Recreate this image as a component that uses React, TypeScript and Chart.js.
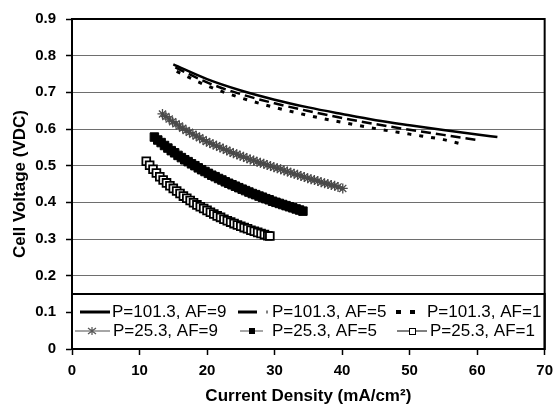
import React, { useEffect, useRef } from 'react';
import { Chart, registerables } from 'chart.js';

Chart.register(...registerables);

// P=101.3, AF=9
const p101af9X = [15, 20, 25, 30, 35, 40, 45, 50, 55, 60, 63];
const p101af9V = [0.776, 0.736, 0.705, 0.68, 0.659, 0.641, 0.624, 0.61, 0.597, 0.585, 0.578];
// P=101.3, AF=5
const p101af5X = [15.3, 20, 25, 30, 35, 40, 45, 50, 55, 60];
const p101af5V = [0.768, 0.727, 0.695, 0.67, 0.649, 0.63, 0.613, 0.598, 0.584, 0.57];
// P=101.3, AF=1
const p101af1X = [15.5, 20, 25, 30, 35, 40, 45, 50, 55, 57.5];
const p101af1V = [0.757, 0.718, 0.685, 0.659, 0.637, 0.618, 0.601, 0.586, 0.571, 0.56];
// P=25.3, AF=9
const p25af9X = [13.4, 13.9, 14.4, 14.9, 15.4, 15.9, 16.4, 16.9, 17.4, 17.9, 18.4, 18.9, 19.4, 19.9, 20.4, 20.9, 21.4, 21.9, 22.4, 22.9, 23.4, 23.9, 24.4, 24.9, 25.4, 25.9, 26.4, 26.9, 27.4, 27.9, 28.4, 28.9, 29.4, 29.9, 30.4, 30.9, 31.4, 31.9, 32.4, 32.9, 33.4, 33.9, 34.4, 34.9, 35.4, 35.9, 36.4, 36.9, 37.4, 37.9, 38.4, 38.9, 39.4, 40.1];
const p25af9V = [0.641, 0.634, 0.627, 0.62, 0.614, 0.608, 0.602, 0.596, 0.591, 0.586, 0.581, 0.576, 0.571, 0.566, 0.562, 0.558, 0.554, 0.55, 0.546, 0.542, 0.538, 0.534, 0.531, 0.527, 0.524, 0.52, 0.517, 0.514, 0.511, 0.508, 0.505, 0.502, 0.499, 0.496, 0.493, 0.49, 0.487, 0.484, 0.481, 0.478, 0.475, 0.472, 0.469, 0.466, 0.463, 0.461, 0.458, 0.455, 0.452, 0.45, 0.447, 0.445, 0.442, 0.438];
// P=25.3, AF=5
const p25af5X = [12.2, 12.7, 13.2, 13.7, 14.2, 14.7, 15.2, 15.7, 16.2, 16.7, 17.2, 17.7, 18.2, 18.7, 19.2, 19.7, 20.2, 20.7, 21.2, 21.7, 22.2, 22.7, 23.2, 23.7, 24.2, 24.7, 25.2, 25.7, 26.2, 26.7, 27.2, 27.7, 28.2, 28.7, 29.2, 29.7, 30.2, 30.7, 31.2, 31.7, 32.2, 32.7, 33.2, 33.7, 34.2];
const p25af5V = [0.578, 0.57, 0.563, 0.555, 0.548, 0.541, 0.535, 0.528, 0.522, 0.516, 0.511, 0.505, 0.5, 0.494, 0.489, 0.484, 0.479, 0.474, 0.47, 0.465, 0.461, 0.456, 0.452, 0.448, 0.444, 0.44, 0.436, 0.432, 0.428, 0.424, 0.421, 0.417, 0.414, 0.41, 0.407, 0.403, 0.4, 0.397, 0.394, 0.391, 0.388, 0.385, 0.382, 0.379, 0.376];
// P=25.3, AF=1
const p25af1X = [11.0, 11.5, 12, 12.5, 13, 13.5, 14, 14.5, 15, 15.5, 16, 16.5, 17, 17.5, 18, 18.5, 19, 19.5, 20, 20.5, 21, 21.5, 22, 22.5, 23, 23.5, 24, 24.5, 25, 25.5, 26, 26.5, 27, 27.5, 28, 28.5, 29, 29.3];
const p25af1V = [0.512, 0.501, 0.49, 0.48, 0.47, 0.461, 0.453, 0.445, 0.438, 0.431, 0.424, 0.417, 0.411, 0.405, 0.399, 0.393, 0.388, 0.383, 0.378, 0.373, 0.368, 0.363, 0.359, 0.354, 0.35, 0.346, 0.342, 0.338, 0.335, 0.331, 0.328, 0.324, 0.321, 0.318, 0.315, 0.312, 0.309, 0.308];

const legendLabels = ['P=101.3, AF=9', 'P=101.3, AF=5', 'P=101.3, AF=1', 'P=25.3, AF=9', 'P=25.3, AF=5', 'P=25.3, AF=1'];
const xTitle = 'Current Density (mA/cm²)';
const yTitle = 'Cell Voltage (VDC)';

const pts = (xs: number[], ys: number[]) => xs.map((x, i) => ({ x, y: ys[i] }));

const FONT = '"Liberation Sans", Arial, sans-serif';

const framePlugin = {
  id: 'frameLegend',
  afterDraw(chart: any) {
    const { ctx, chartArea: a } = chart;
    ctx.save();
    const top = a.bottom - 55;
    ctx.fillStyle = '#fff';
    ctx.fillRect(a.left, top, a.right - a.left, a.bottom - top);
    ctx.strokeStyle = '#000';
    ctx.lineWidth = 2;
    ctx.strokeRect(a.left, top, a.right - a.left, a.bottom - top);
    ctx.strokeRect(a.left, a.top, a.right - a.left, a.bottom - a.top);

    const L = a.left;
    const r1 = a.bottom - 37;
    const r2 = a.bottom - 18;
    ctx.font = '17px ' + FONT;
    ctx.textBaseline = 'middle';
    ctx.textAlign = 'left';
    ctx.fillStyle = '#000';

    // item 1: solid
    ctx.lineWidth = 3;
    ctx.beginPath(); ctx.moveTo(L + 8, r1); ctx.lineTo(L + 38, r1); ctx.stroke();
    ctx.fillText(legendLabels[0], L + 40, r1);
    // item 2: long dash
    ctx.beginPath(); ctx.moveTo(L + 166, r1); ctx.lineTo(L + 185, r1); ctx.stroke();
    ctx.lineWidth = 1;
    ctx.beginPath(); ctx.moveTo(L + 195, r1 - 1.5); ctx.lineTo(L + 195, r1 + 1.5); ctx.stroke();
    ctx.fillText(legendLabels[1], L + 200, r1);
    // item 3: short dash
    ctx.fillRect(L + 324, r1 - 2, 5, 4);
    ctx.fillRect(L + 338, r1 - 2, 5, 4);
    ctx.fillText(legendLabels[2], L + 355, r1);

    // item 4: grey line with star
    ctx.strokeStyle = '#888';
    ctx.lineWidth = 1.5;
    ctx.beginPath(); ctx.moveTo(L + 3, r2); ctx.lineTo(L + 38, r2); ctx.stroke();
    ctx.strokeStyle = '#555';
    ctx.lineWidth = 1.2;
    ctx.beginPath();
    ctx.moveTo(L + 20, r2 - 4); ctx.lineTo(L + 20, r2 + 4);
    ctx.moveTo(L + 16, r2 - 3); ctx.lineTo(L + 24, r2 + 3);
    ctx.moveTo(L + 16, r2 + 3); ctx.lineTo(L + 24, r2 - 3);
    ctx.stroke();
    ctx.fillText(legendLabels[3], L + 41, r2);
    // item 5: grey line with filled square
    ctx.strokeStyle = '#888';
    ctx.lineWidth = 1.5;
    ctx.beginPath(); ctx.moveTo(L + 168, r2); ctx.lineTo(L + 191, r2); ctx.stroke();
    ctx.fillRect(L + 177, r2 - 3, 6, 6);
    ctx.fillText(legendLabels[4], L + 200, r2);
    // item 6: black line with open square
    ctx.strokeStyle = '#000';
    ctx.lineWidth = 1;
    ctx.beginPath(); ctx.moveTo(L + 325, r2); ctx.lineTo(L + 355, r2); ctx.stroke();
    ctx.fillStyle = '#fff';
    ctx.fillRect(L + 337, r2 - 3, 6, 6);
    ctx.strokeRect(L + 337.5, r2 - 2.5, 6, 6);
    ctx.fillStyle = '#000';
    ctx.fillText(legendLabels[5], L + 358, r2);
    ctx.restore();
  },
};

export default function App() {
  const ref = useRef<HTMLCanvasElement>(null);
  useEffect(() => {
    if (!ref.current) return;
    const chart = new Chart(ref.current, {
      type: 'line',
      data: {
        datasets: [
          { label: legendLabels[0], data: pts(p101af9X, p101af9V), borderColor: '#000', borderWidth: 2.5, pointRadius: 0, cubicInterpolationMode: 'monotone' },
          { label: legendLabels[1], data: pts(p101af5X, p101af5V), borderColor: '#000', borderWidth: 2.5, borderDash: [10, 5], pointRadius: 0, cubicInterpolationMode: 'monotone' },
          { label: legendLabels[2], data: pts(p101af1X, p101af1V), borderColor: '#000', borderWidth: 3, borderDash: [4, 8], pointRadius: 0, cubicInterpolationMode: 'monotone' },
          { label: legendLabels[3], data: pts(p25af9X, p25af9V), borderColor: '#666', borderWidth: 1.5, pointStyle: 'star', pointRadius: 5, pointBorderColor: '#4a4a4a', pointBorderWidth: 1.3, cubicInterpolationMode: 'monotone' },
          { label: legendLabels[4], data: pts(p25af5X, p25af5V), borderColor: '#888', borderWidth: 1.5, pointStyle: 'rect', pointRadius: 6, pointBackgroundColor: '#000', pointBorderColor: '#000', pointBorderWidth: 1, cubicInterpolationMode: 'monotone' },
          { label: legendLabels[5], data: pts(p25af1X, p25af1V), borderColor: '#000', borderWidth: 1, pointStyle: 'rect', pointRadius: 5.5, pointBackgroundColor: '#fff', pointBorderColor: '#000', pointBorderWidth: 1.8, cubicInterpolationMode: 'monotone' },
        ],
      } as any,
      options: {
        responsive: false,
        animation: false,
        layout: { padding: { top: 16, right: 11, left: 0, bottom: 0 } },
        plugins: { legend: { display: false }, tooltip: { enabled: false } },
        scales: {
          x: {
            type: 'linear', min: 0, max: 70,
            afterFit: (s: any) => { s.height = 58; },
            ticks: { stepSize: 10, color: '#000', padding: 7, font: { family: FONT, size: 15, weight: 'bold' } },
            grid: { drawOnChartArea: false, drawTicks: true, tickLength: 6, tickColor: '#000', tickWidth: 1.5 },
            border: { display: true, color: '#000', width: 2 },
            title: { display: true, text: xTitle, color: '#000', padding: { top: 0, bottom: 0 }, font: { family: FONT, size: 17, weight: 'bold' } },
          },
          y: {
            type: 'linear', min: 0, max: 0.9,
            afterFit: (s: any) => { s.width = 72; },
            ticks: { stepSize: 0.1, color: '#000', padding: 10, font: { family: FONT, size: 15, weight: 'bold' }, callback: (v: any) => String(Number(Number(v).toFixed(1))) },
            grid: { color: '#6e6e6e', lineWidth: 1, drawTicks: true, tickLength: 6, tickColor: '#000', tickWidth: 1.5 },
            border: { display: true, color: '#000', width: 2 },
            title: { display: true, text: yTitle, color: '#000', padding: { top: 10, bottom: 0 }, font: { family: FONT, size: 17, weight: 'bold' } },
          },
        },
      } as any,
      plugins: [framePlugin],
    });
    return () => chart.destroy();
  }, []);
  return (
    <div style={{ position: 'absolute', left: 0, top: 0, width: 560, height: 407, background: '#fff' }}>
      <canvas ref={ref} width={560} height={407} style={{ display: 'block' }} />
    </div>
  );
}
